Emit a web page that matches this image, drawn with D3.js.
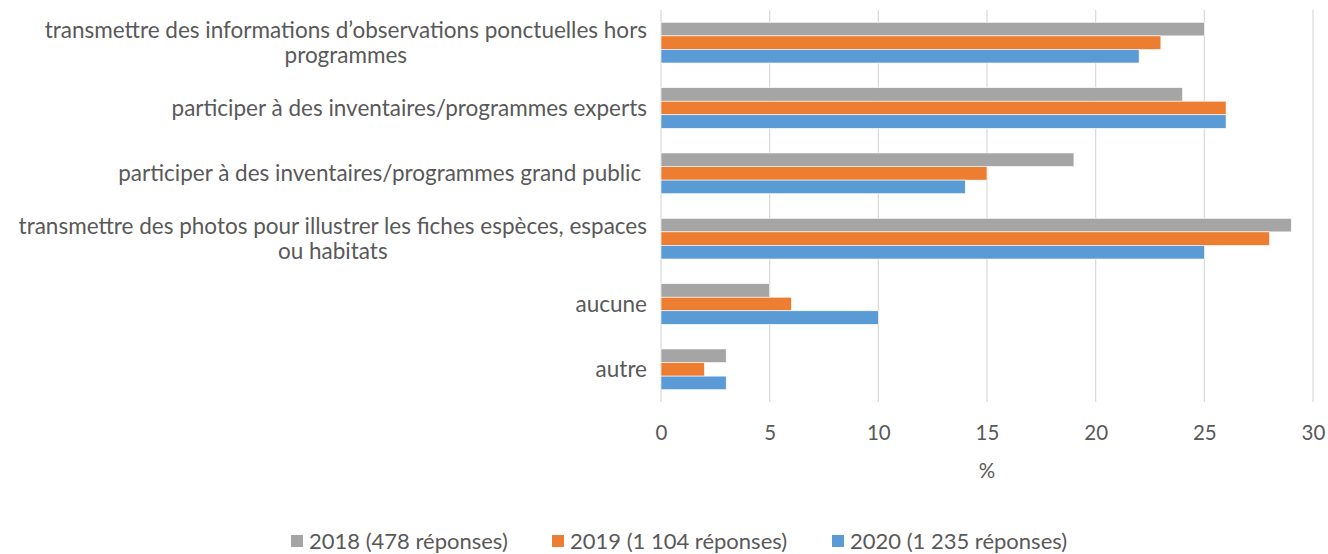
<!DOCTYPE html>
<html lang="fr">
<head>
<meta charset="UTF-8">
<script src="https://d3js.org/d3.v7.min.js"></script>
<style>
  body { margin: 0; background: #fff; }
  text { font-family: Lato, "Open Sans", sans-serif; fill: #595959; }
</style>
</head>
<body>
<div id="chart"></div>
<script>
// categories, top to bottom (each entry = the wrapped lines of the label)
var categories = [
    ["transmettre des informations d\u2019observations ponctuelles hors", "programmes"],
    ["participer \u00e0 des inventaires/programmes experts"],
    ["participer \u00e0 des inventaires/programmes grand public "],
    ["transmettre des photos pour illustrer les fiches esp\u00e8ces, espaces", "ou habitats"],
    ["aucune"],
    ["autre"]
];
var seriesNames = ["2018 (478 r\u00e9ponses)", "2019 (1 104 r\u00e9ponses)", "2020 (1 235 r\u00e9ponses)"];
var values2018 = [25, 24, 19, 29, 5, 3];
var values2019 = [23, 26, 15, 28, 6, 2];
var values2020 = [22, 26, 14, 25, 10, 3];
var xTicks = [0, 5, 10, 15, 20, 25, 30];
var colors = ["#A5A5A5", "#ED7D31", "#5B9BD5"];

var W = 1328, H = 554;
var plotLeft = 661, plotRight = 1313, plotTop = 10, plotBottom = 402;

var svg = d3.select("#chart").append("svg")
    .attr("width", W)
    .attr("height", H);

var xScale = d3.scaleLinear().domain([0, 30]).range([plotLeft, plotRight]);
var catIdx = d3.range(categories.length);
var yScale = d3.scaleBand().domain(catIdx).range([plotTop, plotBottom]);
var groupH = yScale.bandwidth() * 0.623;
var ySub = d3.scaleBand().domain([0, 1, 2]).range([0, groupH]);

// gridlines
svg.append("g").selectAll("line").data(xTicks).enter().append("line")
    .attr("x1", function(d) { return xScale(d); })
    .attr("x2", function(d) { return xScale(d); })
    .attr("y1", plotTop)
    .attr("y2", plotBottom)
    .attr("stroke", "#D9D9D9")
    .attr("stroke-width", 1.2);

// x axis (labels only)
var xAxis = svg.append("g")
    .attr("transform", "translate(0," + (plotBottom + 31) + ")")
    .call(d3.axisBottom(xScale).tickValues(xTicks).tickSize(0).tickPadding(0));
xAxis.select(".domain").remove();
xAxis.selectAll("text")
    .attr("dy", "0.35em")
    .style("font-family", "Lato, 'Open Sans', sans-serif")
    .style("font-size", "20.5px")
    .attr("fill", "#595959");

svg.append("text")
    .attr("x", xScale(15))
    .attr("y", 471)
    .attr("dy", "0.35em")
    .attr("text-anchor", "middle")
    .style("font-size", "20.5px")
    .text("%");

// bars
var allValues = [values2018, values2019, values2020];
var barG = svg.append("g");
allValues.forEach(function(vals, s) {
    barG.selectAll(".bar" + s).data(vals).enter().append("rect")
        .attr("class", "bar" + s)
        .attr("x", xScale(0))
        .attr("y", function(d, i) {
            return yScale(i) + (yScale.bandwidth() - groupH) / 2 + ySub(s);
        })
        .attr("width", function(d) { return xScale(d) - xScale(0); })
        .attr("height", ySub.bandwidth())
        .attr("fill", colors[s])
        .attr("stroke", "#fff")
        .attr("stroke-width", 0.6);
});

// category labels: block right-aligned, lines centered inside the block
var labelRight = 647;
var lineH = 25;
var labG = svg.append("g");
categories.forEach(function(lines, i) {
    var cy = yScale(i) + yScale.bandwidth() / 2;
    var g = labG.append("g");
    var texts = lines.map(function(l, k) {
        return g.append("text")
            .attr("y", cy + (k - (lines.length - 1) / 2) * lineH)
            .attr("dy", "0.35em")
            .attr("text-anchor", "middle")
            .style("font-size", "22.5px")
            .style("white-space", "pre")
            .text(l);
    });
    var maxW = d3.max(texts, function(t) { return t.node().getComputedTextLength(); });
    texts.forEach(function(t) { t.attr("x", labelRight - maxW / 2); });
});

// legend
var legendX = [291, 552, 832];
var legY = 541;
var leg = svg.append("g");
seriesNames.forEach(function(name, s) {
    leg.append("rect")
        .attr("x", legendX[s])
        .attr("y", legY - 6)
        .attr("width", 12)
        .attr("height", 12)
        .attr("fill", colors[s]);
    leg.append("text")
        .attr("x", legendX[s] + 18)
        .attr("y", legY)
        .attr("dy", "0.35em")
        .style("font-size", "22px")
        .text(name);
});
</script>
</body>
</html>
